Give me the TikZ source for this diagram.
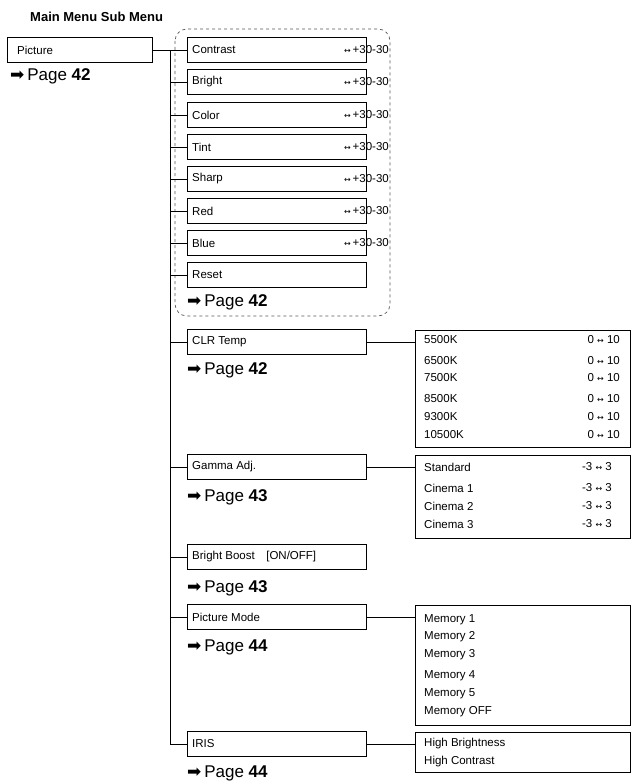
\documentclass[tikz,border=0pt]{standalone}
\usepackage{fontspec}
\setmainfont{Liberation Sans}
\newfontfamily\dv{DejaVu Sans}
\begin{document}
\begin{tikzpicture}[x=1pt,y=-1pt,
  box/.style={draw,line width=0.9pt,minimum height=25pt,inner sep=0pt},
  lbl/.style={font=\fontsize{11.5}{13}\selectfont,anchor=west,inner sep=0pt},
  pg/.style={font=\fontsize{17}{20}\selectfont,anchor=west,inner sep=0pt},
  ln/.style={line width=0.9pt}]
\useasboundingbox (0,0) rectangle (632,784);
\node[anchor=west,inner sep=0pt,font=\bfseries\fontsize{13}{15}\selectfont] (title) at (30,17) {Main Menu Sub Menu};
\node[box,minimum width=145pt,anchor=west] (pic) at (7,50) {};
\node[lbl] (pict) at (17,50) {Picture};
\node[pg] (p0) at (10,76) {{\dv ➡}\,Page \textbf{42}};
\draw[dashed,rounded corners=12pt,line width=0.7pt,gray!70!black] (175,29) rectangle (390,316);
\coordinate (t0) at (170,50);
\coordinate (t1) at (170,744);
\draw[ln] (pic.east) -- (t0) -- (t1);
% sub boxes
\foreach \n/\t/\y/\v in {a/Contrast/50/1,b/Bright/82/1,c/Color/115/1,d/Tint/147/1,e/Sharp/179/1,f/Red/211/1,g/Blue/243/1,h/Reset/275/0,
  i/CLR Temp/342/0,j/Gamma Adj./467/0,k/{Bright Boost\quad[ON/OFF]}/557/0,l/Picture Mode/617/0,m/IRIS/744/0}{
  \node[box,minimum width=179pt,anchor=west] (\n) at (187,\y) {};
  \node[lbl] at (192,\y) {\t};
  \draw[ln] (170,\y) -- (\n.west);
  \ifnum\v=1 \node[lbl,anchor=east] at (389,\y) {{\dv\footnotesize ↔}\,+30-30};\fi
}
\node[pg] (p1) at (187,302) {{\dv ➡}\,Page \textbf{42}};
\node[pg] (p2) at (187,370) {{\dv ➡}\,Page \textbf{42}};
\node[pg] (p3) at (187,497) {{\dv ➡}\,Page \textbf{43}};
\node[pg] (p4) at (187,588) {{\dv ➡}\,Page \textbf{43}};
\node[pg] (p5) at (187,647) {{\dv ➡}\,Page \textbf{44}};
\node[pg] (p6) at (187,773) {{\dv ➡}\,Page \textbf{44}};
% right boxes
\node[draw,line width=0.9pt,minimum width=215pt,minimum height=117pt,anchor=north west,inner sep=0pt] (R1) at (415,330) {};
\node[draw,line width=0.9pt,minimum width=215pt,minimum height=83pt,anchor=north west,inner sep=0pt] (R2) at (415,455) {};
\node[draw,line width=0.9pt,minimum width=215pt,minimum height=120pt,anchor=north west,inner sep=0pt] (R3) at (415,605) {};
\node[draw,line width=0.9pt,minimum width=215pt,minimum height=40pt,anchor=north west,inner sep=0pt] (R4) at (415,732) {};
\draw[ln] (i.east) -- (i.east -| R1.west);
\draw[ln] (j.east) -- (j.east -| R2.west);
\draw[ln] (l.east) -- (l.east -| R3.west);
\draw[ln] (m.east) -- (m.east -| R4.west);
\foreach \t/\y in {5500K/340,6500K/361,7500K/378,8500K/399,9300K/417,10500K/435}{
  \node[lbl] at (424,\y) {\t};
  \node[lbl,anchor=east] at (620,\y) {0 {\dv\footnotesize ↔} 10};}
\foreach \t/\y in {Standard/467,Cinema 1/488,Cinema 2/506,Cinema 3/524}{
  \node[lbl] at (424,\y) {\t};
  \node[lbl,anchor=east] at (612,\y) {-3 {\dv\footnotesize ↔} 3};}
\foreach \t/\y in {Memory 1/620,Memory 2/637,Memory 3/655,Memory 4/676,Memory 5/694,Memory OFF/712}{
  \node[lbl] at (424,\y) {\t};}
\node[lbl] at (424,744) {High Brightness};
\node[lbl] at (424,762) {High Contrast};
\end{tikzpicture}
\end{document}
